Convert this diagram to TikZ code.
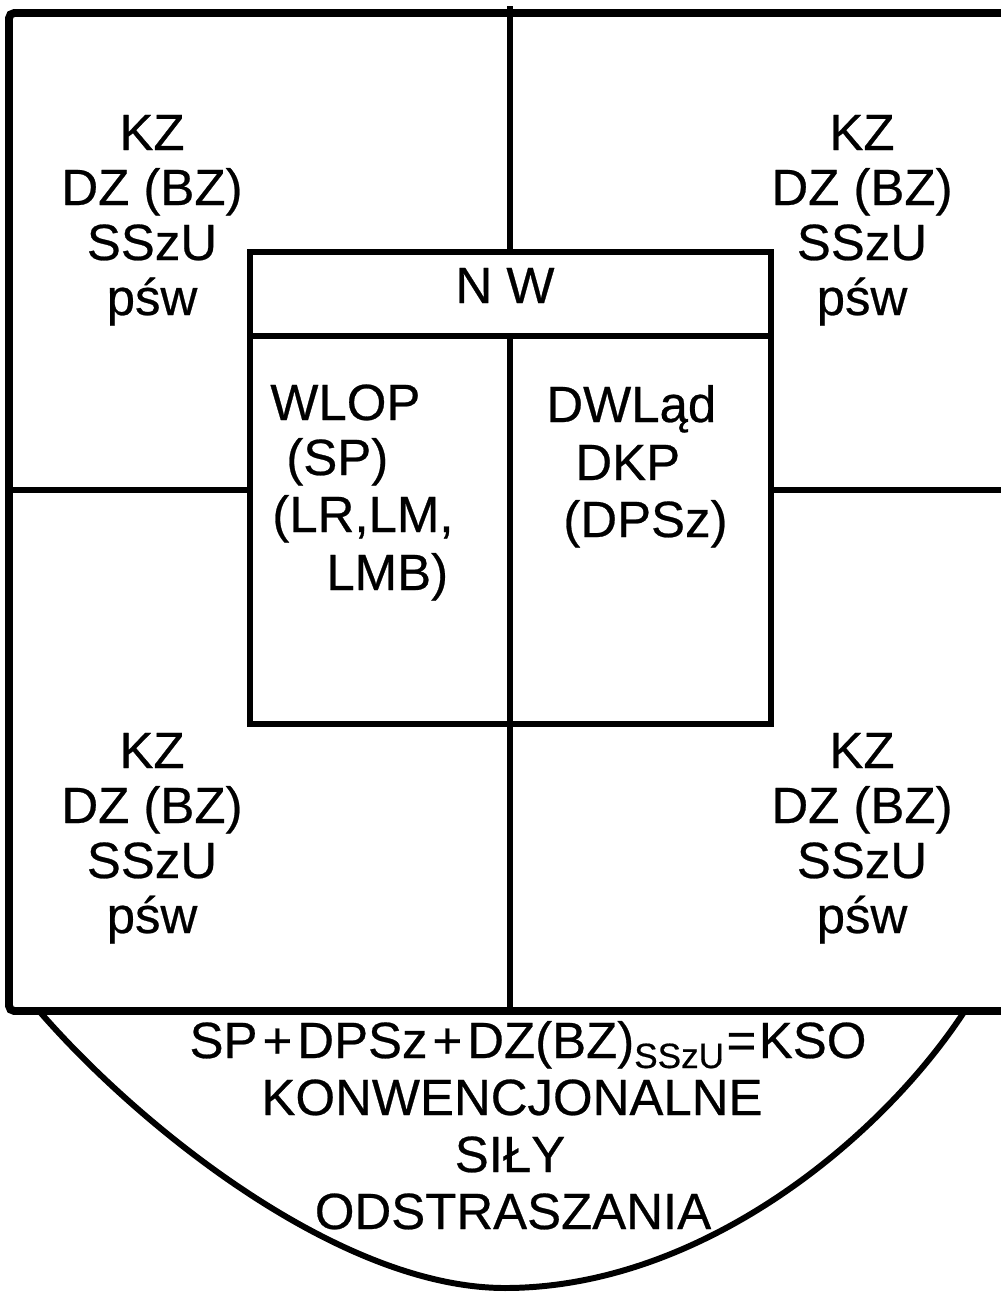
\documentclass[tikz,border=0pt]{standalone}
\usepackage{fontspec}
\setmainfont{Liberation Sans}
\newfontfamily\scanfont{Liberation Sans}[FakeBold=0.5]
\begin{document}
\begin{tikzpicture}[x=0.02cm,y=-0.02cm,
  outer/.style={line width=4.5pt},
  innerline/.style={line width=3.7pt},
  arcline/.style={line width=3.4pt},
  lbl/.style={font=\scanfont\fontsize{29}{31}\selectfont, inner sep=0pt, anchor=base},
  lblw/.style={lbl, anchor=base west}]
\useasboundingbox (0,0) rectangle (1001,1292);
% outer frame (open on the right)
\draw[outer, rounded corners=3] (1010,13) -- (9,13) -- (9,1011) -- (1010,1011);
% central vertical line
\draw[innerline] (510,6) -- (510,252);
\draw[innerline] (510,724) -- (510,1011);
% middle horizontal line
\draw[innerline] (9,490) -- (250,490);
\draw[innerline] (771,490) -- (1010,490);
% inner box
\draw[innerline] (250,252) rectangle (771,724);
\draw[innerline] (250,336) -- (771,336);
\draw[innerline] (510,336) -- (510,724);
% bottom bowl
\draw[arcline] (40,1012) .. controls (140,1127) and (340,1288) .. (505,1288)
  .. controls (700,1288) and (880,1140) .. (964,1012);
% corner texts
\foreach \cx/\cy/\nm in {152/150/tl, 862/150/tr, 152/768/bl, 862/768/br} {
  \node[lbl] (\nm1) at (\cx,\cy) {KZ};
  \node[lbl] (\nm2) at (\cx,\cy+55) {DZ (BZ)};
  \node[lbl] (\nm3) at (\cx,\cy+110) {SSzU};
  \node[lbl] (\nm4) at (\cx,\cy+165) {pśw};
}
% header
\node[lbl] (nw) at (505,303) {N W};
% inner left
\node[lblw] (wl1) at (270,420) {WLOP};
\node[lblw] (wl2) at (286,475) {(SP)};
\node[lblw] (wl3) at (272,532) {(LR,LM,};
\node[lblw] (wl4) at (326,590) {LMB)};
% inner right
\node[lblw] (dw1) at (546,422) {DWLąd};
\node[lblw] (dw2) at (575,480) {DKP};
\node[lblw] (dw3) at (563,537) {(DPSz)};
% bottom texts
\node[lbl] (f1) at (528,1058) {SP\hspace{0.1cm}+\hspace{0.1cm}DPSz\hspace{0.1cm}+\hspace{0.1cm}DZ(BZ)\raisebox{-0.2cm}{\fontsize{20}{20}\selectfont SSzU}\hspace{0.05cm}=\hspace{0.05cm}KSO};
\node[lbl] (f2) at (512,1115) {KONWENCJONALNE};
\node[lbl] (f3) at (510,1172) {SIŁY};
\node[lbl] (f4) at (513,1229) {ODSTRASZANIA};
\end{tikzpicture}
\end{document}
